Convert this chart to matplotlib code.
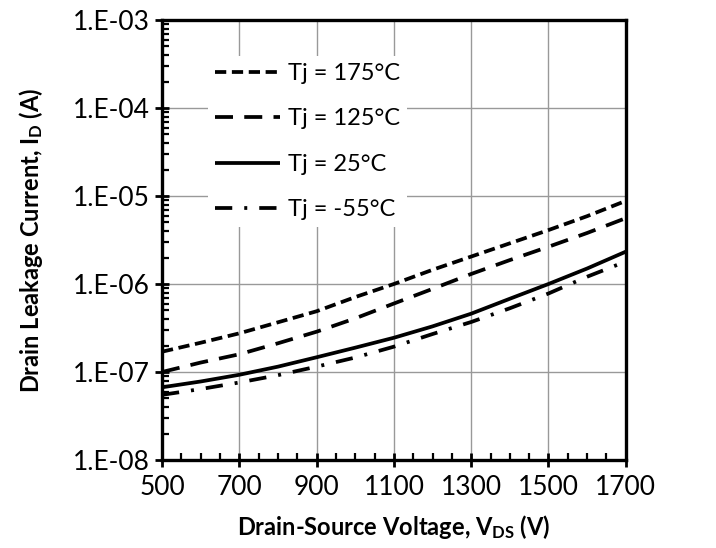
import math
import matplotlib
matplotlib.use('Agg')
import matplotlib.pyplot as plt
from matplotlib.ticker import FixedLocator, LogLocator, FuncFormatter, NullFormatter

plt.rcParams['font.family'] = ['Lato', 'DejaVu Sans']
plt.rcParams['mathtext.fontset'] = 'custom'
plt.rcParams['mathtext.rm'] = 'Lato'
plt.rcParams['mathtext.bf'] = 'Lato:bold'

# データ
vds = [500, 600, 700, 800, 900, 1000, 1100, 1200, 1300, 1400, 1500, 1600, 1700]
id_175 = [1.70e-7, 2.15e-7, 2.75e-7, 3.67e-7, 4.9e-7, 7.1e-7, 1.0e-6,
          1.45e-6, 2.05e-6, 2.9e-6, 4.1e-6, 5.9e-6, 8.8e-6]
id_125 = [1.0e-7, 1.28e-7, 1.59e-7, 2.12e-7, 2.87e-7, 4.07e-7, 6.0e-7,
          8.8e-7, 1.3e-6, 1.87e-6, 2.65e-6, 3.8e-6, 5.6e-6]
id_25 = [6.7e-8, 7.8e-8, 9.3e-8, 1.15e-7, 1.47e-7, 1.89e-7, 2.45e-7,
         3.3e-7, 4.6e-7, 6.8e-7, 1.0e-6, 1.5e-6, 2.33e-6]
id_m55 = [5.5e-8, 6.4e-8, 7.6e-8, 9.2e-8, 1.15e-7, 1.46e-7, 1.94e-7,
          2.7e-7, 3.7e-7, 5.3e-7, 7.8e-7, 1.21e-6, 1.8e-6]
labels = ['Tj = 175°C', 'Tj = 125°C', 'Tj = 25°C', 'Tj = -55°C']

styles = [(0, (3.0, 1.5)), (0, (4.8, 3.0)), '-', (0, (4.6, 3.2, 0.8, 3.2))]

fig = plt.figure(figsize=(7.16, 5.48), dpi=100)
ax = fig.add_axes([0.2263, 0.1606, 0.6477, 0.8029])

for ys, ls, lab in zip([id_175, id_125, id_25, id_m55], styles, labels):
    ax.plot(vds, ys, color='black', linestyle=ls, linewidth=2.7, label=lab,
            solid_capstyle='butt', dash_capstyle='butt')

ax.set_yscale('log')
ax.set_xlim(500, 1700)
ax.set_ylim(1e-8, 1e-3)
ax.set_xticks([500, 700, 900, 1100, 1300, 1500, 1700])
ax.xaxis.set_minor_locator(FixedLocator(list(range(550, 1700, 50))))
ax.yaxis.set_major_locator(LogLocator(base=10, numticks=10))
ax.yaxis.set_minor_locator(LogLocator(base=10, subs=range(2, 10), numticks=20))
ax.yaxis.set_minor_formatter(NullFormatter())
ax.yaxis.set_major_formatter(FuncFormatter(lambda v, p: '1.E-%02d' % round(-math.log10(v))))

ax.grid(True, which='major', color='#999999', linewidth=1.0)
ax.tick_params(which='major', direction='inout', length=10, width=2, labelsize=19, colors='black')
ax.tick_params(which='minor', direction='in', length=5, width=1.6)
ax.tick_params(axis='x', pad=6)
for s in ax.spines.values():
    s.set_linewidth(2.4)

ax.set_xlabel(r'Drain-Source Voltage, $\mathbf{V_{DS}}$ (V)', fontsize=17, fontweight='bold', labelpad=9)
ax.set_ylabel(r'Drain Leakage Current, $\mathbf{I_D}$ (A)', fontsize=17, fontweight='bold', labelpad=20)

leg = ax.legend(loc='upper left', bbox_to_anchor=(0.1, 0.918), fontsize=17, frameon=True,
                handlelength=2.75, handletextpad=0.3, labelspacing=1.03, borderaxespad=0,
                borderpad=0.3)
leg.get_frame().set_edgecolor('none')
leg.get_frame().set_facecolor('white')
leg.get_frame().set_alpha(1)

fig.savefig('out.png', dpi=100)
